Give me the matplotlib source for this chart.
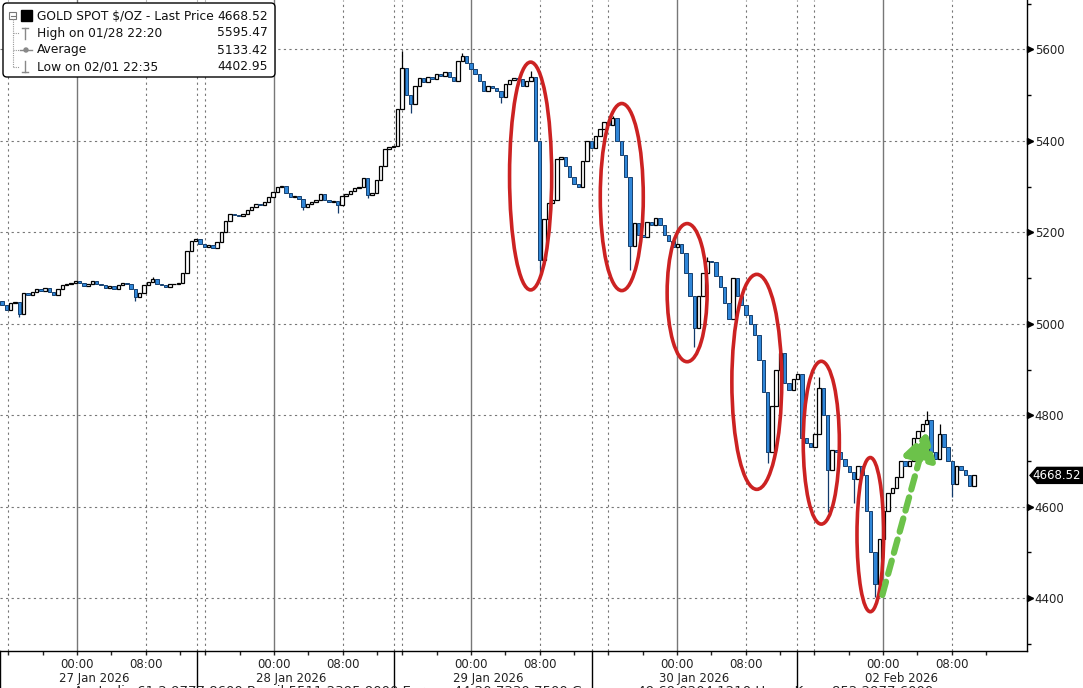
import numpy as np
import matplotlib.pyplot as plt
import matplotlib.transforms as mtrans
from matplotlib.patches import Ellipse, Polygon, FancyBboxPatch, Circle

plt.rcParams['font.family'] = ['DejaVu Sans']

# half-hour closes, one list per trading day
closes_27jan = [5042, 5030, 5045, 5048, 5022, 5068, 5062, 5070, 5076, 5072,
                5078, 5070, 5063, 5075, 5084, 5088, 5090, 5094, 5090, 5082,
                5088, 5093, 5087, 5084, 5078, 5082, 5076, 5085, 5090, 5086,
                5075, 5058, 5068, 5085, 5092, 5098, 5088, 5084, 5080, 5086,
                5088, 5090, 5112, 5160, 5182, 5186]
closes_28jan = [5175, 5168, 5172, 5165, 5178, 5200, 5225, 5240, 5238, 5235,
                5240, 5248, 5256, 5262, 5260, 5266, 5278, 5288, 5298, 5302,
                5285, 5278, 5280, 5272, 5255, 5262, 5266, 5270, 5284, 5270,
                5266, 5268, 5260, 5280, 5284, 5290, 5296, 5300, 5318, 5282,
                5285, 5315, 5345, 5382, 5386, 5388]
closes_29jan = [5470, 5560, 5500, 5480, 5520, 5538, 5528, 5540, 5535, 5545,
                5542, 5550, 5540, 5530, 5575, 5585, 5570, 5558, 5545, 5530,
                5508, 5520, 5516, 5508, 5495, 5525, 5532, 5538, 5535, 5520,
                5530, 5540, 5400, 5140, 5230, 5265, 5270, 5360, 5365, 5345,
                5320, 5305, 5300, 5355, 5400, 5385]
closes_30jan = [5410, 5425, 5440, 5435, 5450, 5400, 5370, 5320, 5170, 5220,
                5195, 5190, 5222, 5215, 5232, 5215, 5195, 5180, 5168, 5175,
                5155, 5110, 5060, 4990, 5060, 5110, 5138, 5135, 5105, 5080,
                5045, 5010, 5100, 5060, 5040, 5020, 5000, 4975, 4920, 4850,
                4720, 4820, 4900, 4935, 4870, 4855, 4880, 4890]
closes_02feb = [4750, 4740, 4730, 4760, 4860, 4800, 4680, 4725, 4720, 4705,
                4690, 4675, 4660, 4690, 4670, 4590, 4500, 4430, 4530, 4590,
                4630, 4640, 4665, 4700, 4690, 4700, 4750, 4765, 4780, 4790,
                4720, 4705, 4760, 4730, 4700, 4650, 4690, 4680, 4670, 4645,
                4668.52]
first_open = 5050

# long wicks (candle index -> price)
wick_high = {35: 5102, 93: 5595.47, 107: 5591, 123: 5552, 142: 5455,
             164: 5145, 190: 4884, 215: 4810, 218: 4780}
wick_low = {4: 5015, 31: 5050, 70: 5249, 78: 5242, 85: 5275, 95: 5460,
            116: 5482, 125: 5110, 146: 5118, 161: 4950, 178: 4695,
            192: 4588, 198: 4608, 203: 4402.95, 216: 4700, 221: 4622}

# trading day blocks: start hour, midnight hour (x axis = trading hours)
day_start = [0.0, 22.9, 45.8, 68.8, 92.7]
day_midnight = [8.95, 31.86, 54.77, 78.72, 102.67]
day_labels = ['27 Jan 2026', '28 Jan 2026', '29 Jan 2026', '30 Jan 2026', '02 Feb 2026']

last_price = 4668.52
legend_rows = [('GOLD SPOT $/OZ - Last Price', '4668.52'),
               ('High on 01/28 22:20', '5595.47'),
               ('Average', '5133.42'),
               ('Low on 02/01 22:35', '4402.95')]

# red rings: centre hour, centre price, width (h), height ($)
ring_t = [61.7, 72.3, 79.9, 88.0, 95.5, 101.2]
ring_p = [5323, 5277, 5068, 4873, 4740, 4539]
ring_w = [4.9, 5.0, 4.65, 5.8, 4.2, 3.1]
ring_h = [498, 409, 302, 470, 356, 337]
arrow_from = (102.6, 4407)
arrow_to = (107.8, 4764)

W, H = 1083, 688
fig = plt.figure(figsize=(W / 100, H / 100), dpi=100)
ax = fig.add_axes([0, (H - 651) / H, 1027 / W, 651 / H])

closes = np.array(closes_27jan + closes_28jan + closes_29jan + closes_30jan + closes_02feb, dtype=float)
opens = np.concatenate([[first_open], closes[:-1]])
n = len(closes)
t = np.arange(n) * 0.5 + 0.25
hi = np.maximum(opens, closes)
lo = np.minimum(opens, closes)
for i, v in wick_high.items():
    hi[i] = max(hi[i], v)
for i, v in wick_low.items():
    lo[i] = min(lo[i], v)
up = closes >= opens

ax.vlines(t[up], lo[up], hi[up], color='black', lw=0.9, zorder=3)
ax.vlines(t[~up], lo[~up], hi[~up], color='#123a6b', lw=0.9, zorder=3)
ax.bar(t[up], (closes - opens)[up], bottom=opens[up], width=0.4,
       color='white', edgecolor='black', lw=0.9, zorder=4)
ax.bar(t[~up], (opens - closes)[~up], bottom=closes[~up], width=0.4,
       color='#2f86d8', edgecolor='#16406f', lw=0.7, zorder=4)

ax.set_xlim(0, 1027 / 8.6)
ax.set_ylim(4284.6, 5707.8)

# grid
for p in range(4400, 5601, 200):
    ax.axhline(p, color='#777777', lw=0.8, ls=(0, (2, 3)), zorder=1)
for s, m in zip(day_start, day_midnight):
    ax.axvline(m, color='#777777', lw=1.0, zorder=1)
    for g in (s, m - 8, m + 8):
        if g > 0:
            ax.axvline(g, color='#777777', lw=0.8, ls=(0, (2, 3)), zorder=1)

# axes styling
for side in ('left', 'top'):
    ax.spines[side].set_visible(False)
ax.spines['right'].set_linewidth(1.0)
ax.spines['bottom'].set_linewidth(1.0)
ax.yaxis.tick_right()
ax.set_yticks(range(4400, 5601, 200))
ax.set_yticks(range(4300, 5701, 100), minor=True)
ax.tick_params(axis='y', which='major', length=4, width=1, pad=1.5, labelsize=8.5, colors='#222222')
ax.tick_params(axis='y', which='minor', length=3, width=1)
ymk = ax.get_yaxis_transform() + mtrans.ScaledTranslation(0.03, 0, fig.dpi_scale_trans)
ax.plot([1.0] * 7, list(range(4400, 5601, 200)), ls='none', marker='>', ms=5,
        color='black', transform=ymk, clip_on=False)

major_x, major_lbl, minor_x = [], [], []
for m in day_midnight:
    major_x += [m, m + 8]
    major_lbl += ['00:00', '08:00']
    minor_x += [m - 8, m - 4, m + 4, m + 12]
ax.set_xticks(major_x)
ax.set_xticklabels(major_lbl)
ax.set_xticks(minor_x, minor=True)
ax.tick_params(axis='x', which='both', length=3, width=1, pad=2, labelsize=8.5, colors='#222222')

xdiv = mtrans.blended_transform_factory(ax.transData, ax.transAxes)
for s, m, lbl in zip(day_start, day_midnight, day_labels):
    ax.plot([s, s], [0, -0.07], color='black', lw=1, transform=xdiv, clip_on=False)
    ax.text(m - 2.05, -0.0415, lbl, transform=xdiv, ha='left', va='center',
            fontsize=8.5, color='#222222')

# annotations
for ct, cp, w, h in zip(ring_t, ring_p, ring_w, ring_h):
    ax.add_patch(Ellipse((ct, cp), w, h, fill=False, ec='#cc2222', lw=2.6, zorder=6))
ax.annotate('', xy=arrow_to, xytext=arrow_from,
            arrowprops=dict(arrowstyle='-|>,head_length=0.9,head_width=0.55',
                            lw=4.5, ls=(0, (2.2, 1.3)), color='#6cc24a',
                            mutation_scale=18, shrinkA=0, shrinkB=0),
            zorder=7)

# overlay in pixel coordinates
ov = fig.add_axes([0, 0, 1, 1], facecolor='none')
ov.set_xlim(0, W)
ov.set_ylim(H, 0)
ov.axis('off')

ov.add_patch(FancyBboxPatch((3, 3), 272, 74, boxstyle='round,pad=0,rounding_size=4',
                            fc='white', ec='black', lw=1, zorder=10))
row_y = [16, 33, 50, 67]
for (lbl, val), y in zip(legend_rows, row_y):
    ov.text(37, y, lbl, fontsize=8.8, va='center', ha='left', color='#111111', zorder=11)
    ov.text(268, y, val, fontsize=8.8, va='center', ha='right', color='#111111', zorder=11)
# tree + icons
ov.add_patch(FancyBboxPatch((9, 12), 7, 7, boxstyle='square,pad=0', fc='white', ec='#777777', lw=0.8, zorder=11))
ov.plot([10.5, 14.5], [15.5, 15.5], color='#777777', lw=0.8, zorder=11)
ov.plot([12.5, 12.5], [19, 67], color='#999999', lw=0.8, ls=(0, (1, 1)), zorder=11)
for y in row_y[1:]:
    ov.plot([12.5, 19], [y, y], color='#999999', lw=0.8, ls=(0, (1, 1)), zorder=11)
ov.add_patch(FancyBboxPatch((21, 10), 11, 11, boxstyle='square,pad=0', fc='black', ec='black', zorder=11))
ov.plot([22, 28], [28, 28], color='#888888', lw=1, zorder=11)
ov.plot([25, 25], [28, 39], color='#888888', lw=1, zorder=11)
ov.plot([20, 32], [50, 50], color='#888888', lw=1, zorder=11)
ov.add_patch(Circle((26, 50), 2, fc='#888888', ec='#888888', zorder=11))
ov.plot([22, 28], [72, 72], color='#888888', lw=1, zorder=11)
ov.plot([25, 25], [61, 72], color='#888888', lw=1, zorder=11)

# last price tag
ly = H - ax.transData.transform((0, last_price))[1]
ov.add_patch(Polygon([(1030, ly), (1037, ly - 8), (1083, ly - 8), (1083, ly + 8), (1037, ly + 8)],
                     closed=True, fc='black', ec='black', zorder=10, clip_on=False))
ov.text(1057, ly, '4668.52', color='white', fontsize=8.5, ha='center', va='center', zorder=11)

# cut-off footer line
ov.text(74, 685, 'Australia 61 2 9777 8600 Brazil 5511 2395 9000 Europe 44 20 7330 7500 '
        'Germany 49 69 9204 1210 Hong Kong 852 2977 6000',
        fontsize=9.5, ha='left', va='top', color='#222222')

fig.savefig('out.png', dpi=100)
